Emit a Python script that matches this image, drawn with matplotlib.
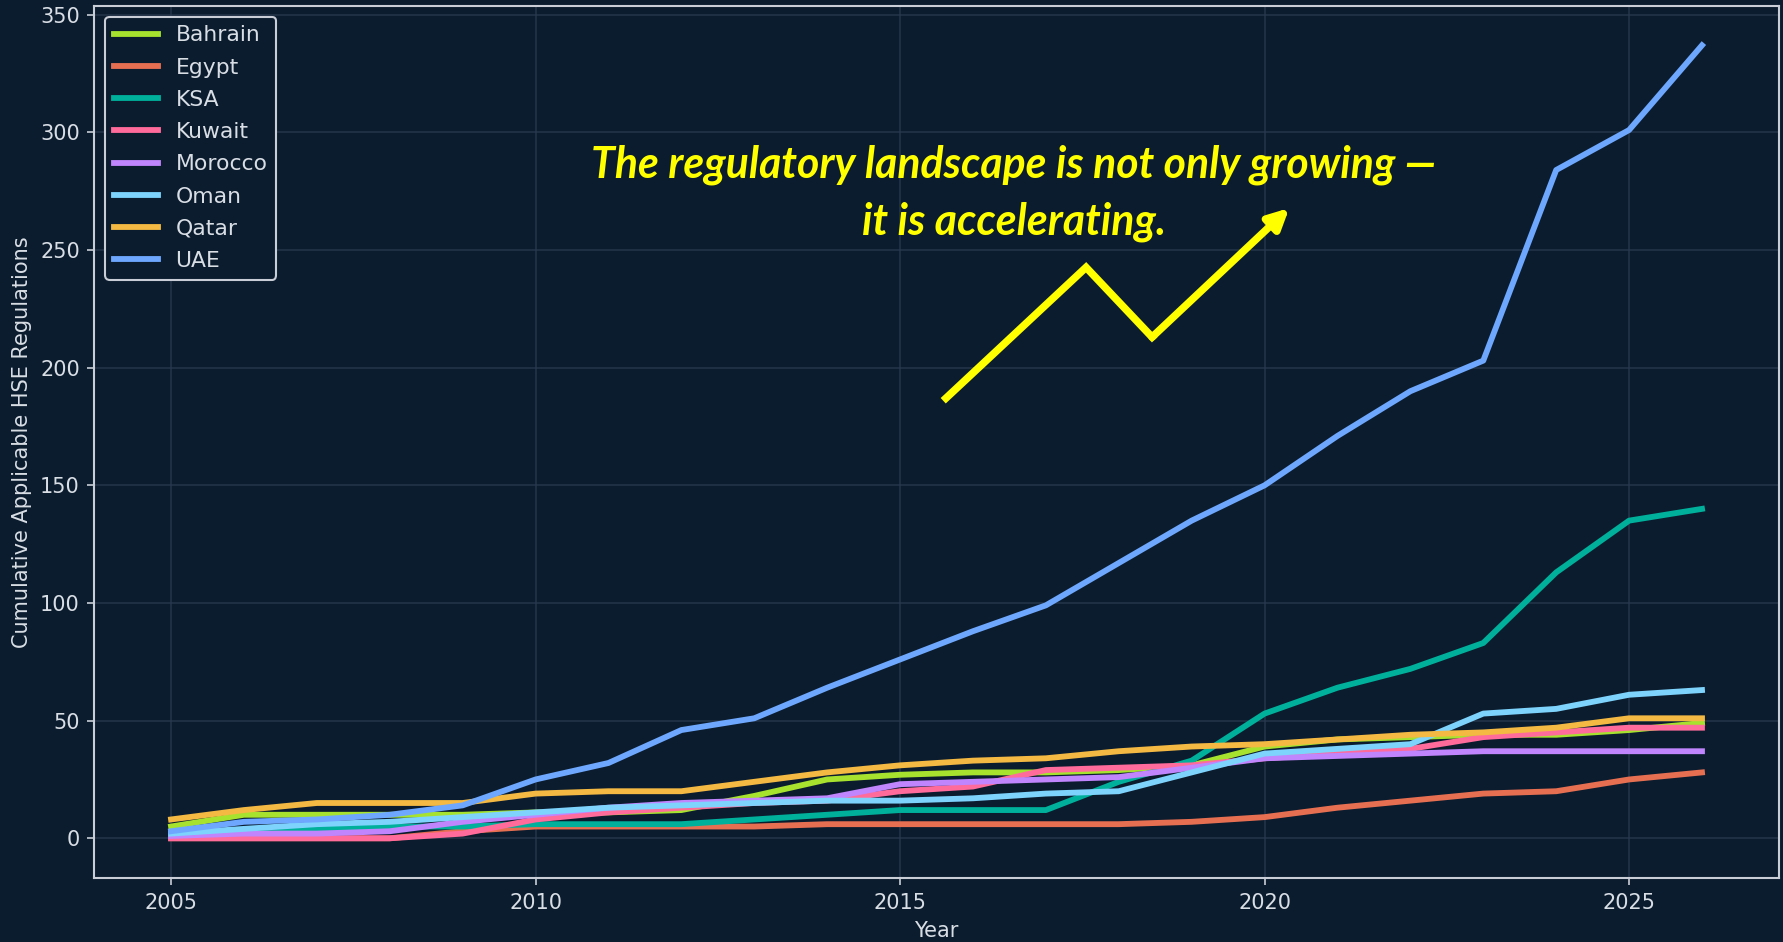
import matplotlib
matplotlib.use('Agg')
import matplotlib.pyplot as plt

# 数据
years = list(range(2005, 2027))
countries = ['Bahrain', 'Egypt', 'KSA', 'Kuwait', 'Morocco', 'Oman', 'Qatar', 'UAE']
bahrain = [5, 10, 10, 10, 10, 11, 11, 12, 18, 25, 27, 28, 28, 29, 31, 39, 42, 43, 44, 44, 46, 49]
egypt = [0, 0, 0, 0, 3, 5, 5, 5, 5, 6, 6, 6, 6, 6, 7, 9, 13, 16, 19, 20, 25, 28]
ksa = [1, 3, 4, 5, 5, 6, 6, 6, 8, 10, 12, 12, 12, 24, 33, 53, 64, 72, 83, 113, 135, 140]
kuwait = [0, 0, 0, 0, 2, 8, 11, 13, 15, 16, 20, 22, 29, 30, 31, 34, 36, 38, 43, 45, 47, 47]
morocco = [1, 2, 2, 3, 7, 10, 13, 15, 16, 17, 23, 24, 25, 26, 30, 34, 35, 36, 37, 37, 37, 37]
oman = [2, 4, 6, 7, 9, 11, 13, 14, 15, 16, 16, 17, 19, 20, 28, 36, 38, 40, 53, 55, 61, 63]
qatar = [8, 12, 15, 15, 15, 19, 20, 20, 24, 28, 31, 33, 34, 37, 39, 40, 42, 44, 45, 47, 51, 51]
uae = [3, 7, 8, 10, 14, 25, 32, 46, 51, 64, 76, 88, 99, 117, 135, 150, 171, 190, 203, 284, 301, 337]
series = [bahrain, egypt, ksa, kuwait, morocco, oman, qatar, uae]
colors = ['#a6e22e', '#e76f51', '#00b09b', '#ff6b9a', '#c084fc', '#7dd3fc', '#f4b942', '#6ea8fe']

bg = '#0b1c2f'
fg = '#d9dee5'

fig = plt.figure(figsize=(1783 / 150, 942 / 150), dpi=150, facecolor=bg)
ax = fig.add_axes([0.053, 0.068, 0.9445, 0.926], facecolor=bg)

for name, vals, c in zip(countries, series, colors):
    ax.plot(years, vals, color=c, lw=2.8, label=name)

ax.grid(True, color='#2a3a4e', lw=0.8, alpha=0.8)
ax.set_axisbelow(True)
for s in ax.spines.values():
    s.set_color('#c9ced6')
    s.set_linewidth(1.0)
ax.tick_params(colors='#c9ced6', labelcolor=fg, labelsize=10)
ax.set_xticks([2005, 2010, 2015, 2020, 2025])
ax.set_xlabel('Year', color=fg, fontsize=10)
ax.set_ylabel('Cumulative Applicable HSE Regulations', color=fg, fontsize=10)

leg = ax.legend(loc='upper left', fontsize=10.5, handlelength=2.0, labelspacing=0.56,
                frameon=True, facecolor=bg, edgecolor='#c9ced6', framealpha=1.0)
for t in leg.get_texts():
    t.set_color(fg)

# 标注文字和折线箭头
ax.text(0.546, 0.7846, 'The regulatory landscape is not only growing —\nit is accelerating.',
        transform=ax.transAxes, ha='center', va='center', color='#ffff00',
        fontsize=20.5, fontweight='bold', fontstyle='italic', family=['Lato', 'DejaVu Sans'],
        linespacing=1.5)
zx = [0.5056, 0.5888, 0.628]
zy = [0.550, 0.700, 0.620]
ax.plot(zx, zy, color='#ffff00', lw=3.6, transform=ax.transAxes, solid_joinstyle='miter')
ax.annotate('', xy=(0.7095, 0.768), xytext=(0.628, 0.620), xycoords='axes fraction',
            arrowprops=dict(arrowstyle='-|>,head_length=0.8,head_width=0.4', color='#ffff00',
                            lw=3.6, shrinkA=0, shrinkB=0))

plt.savefig('out.png', dpi=150, facecolor=bg)
